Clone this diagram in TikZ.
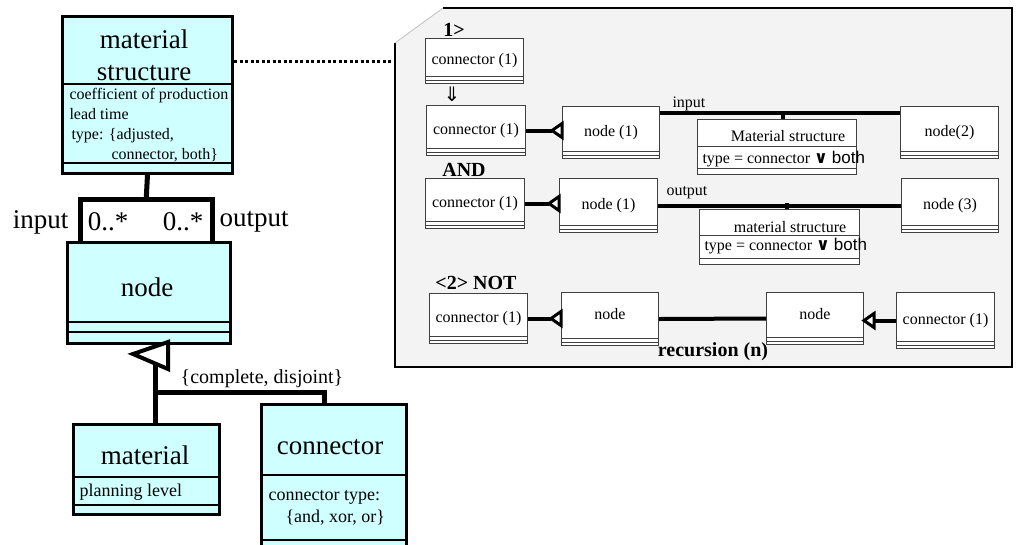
\documentclass[tikz,border=0pt]{standalone}
\usepackage{fontspec}
\setmainfont{Liberation Serif}
\newfontfamily\symfont{DejaVu Sans}
\newfontfamily\armfont{Liberation Sans}
\usetikzlibrary{arrows.meta, positioning, calc}
\definecolor{UmlCyan}{HTML}{CFFFFF}
\definecolor{PanelGrey}{HTML}{F3F3F3}

\begin{document}
\begin{tikzpicture}[x=1pt, y=-1pt,
        clsbox/.style={draw, line width=3pt, fill=UmlCyan, anchor=north west, inner sep=0pt},
        divline/.style={line width=2.5pt},
        assoc/.style={line width=5pt},
        bigtext/.style={font=\fontsize{27}{32}\selectfont},
        attrtext/.style={font=\fontsize{16}{20}\selectfont, align=left},
        midtext/.style={font=\fontsize{18}{21}\selectfont},
        smallbox/.style={draw=black!75, line width=1pt, fill=white, anchor=north west, inner sep=0pt, font=\fontsize{16}{19}\selectfont},
        thinline/.style={draw=black!75, line width=1pt},
        pline/.style={line width=4pt},
        ptri/.style={line width=3pt, fill=white, line join=miter},
        boldtext/.style={font=\fontsize{20}{24}\selectfont\bfseries},
        plabel/.style={font=\fontsize{16}{19}\selectfont, anchor=west},
        dotlink/.style={line width=3pt, dash pattern=on 3pt off 2.5pt}]

    \useasboundingbox (0,0) rectangle (1016,544);

    % class diagram
    \node[clsbox, minimum width=170pt, minimum height=157pt] (mstruct) at (61,15) {};
    \draw[divline] (61,84) -- (231,84);
    \draw[divline] (61,163) -- (231,163);
    \node[bigtext, align=center] at (144,55) {material\\structure};
    \node[attrtext, anchor=west] at (66,125) {coefficient of production\\lead time\\\hspace{2pt}type: \{adjusted,\\\hspace{42pt}connector, both\}};

    \node[minimum width=132pt, minimum height=42pt, fill=white, anchor=north west, inner sep=0pt] (mult) at (80,199) {};
    \draw[assoc] (mult.south west) -- (mult.north west) -- (mult.north east) -- (mult.south east);
    \draw[assoc] (mstruct.south) -- (mult.north);

    \node[clsbox, minimum width=163pt, minimum height=101pt] (nodecls) at (66,241) {};
    \draw[divline] (66,322) -- (229,322);
    \draw[divline] (66,332) -- (229,332);
    \node[bigtext] at (147,287) {node};

    \node[bigtext, anchor=east] at (72,222) {input};
    \node[bigtext] at (108,222) {0..*};
    \node[bigtext] at (183,222) {0..*};
    \node[bigtext] at (254,222) {output};

    \node[clsbox, minimum width=146pt, minimum height=90pt] (matcls) at (72,423) {};
    \draw[divline] (72,477) -- (218,477);
    \draw[divline] (72,505) -- (218,505);
    \node[bigtext] at (145,455) {material};
    \node[midtext, anchor=west] at (76,492) {planning level};

    \node[clsbox, minimum width=145pt, minimum height=148pt] (concls) at (260,403) {};
    \draw[divline] (260,475) -- (405,475);
    \draw[divline] (260,540) -- (405,540);
    \node[bigtext] at (330,447) {connector};
    \node[midtext, anchor=west] at (265,497) {connector type:};
    \node[midtext, anchor=west] at (282,518) {\{and, xor, or\}};

    % generalization
    \coordinate (genjoin) at (155,392);
    \draw[assoc] (155,364) -- (genjoin) -- (matcls.north -| genjoin);
    \draw[assoc] (genjoin) -| ([xshift=-10pt]concls.north);
    \draw[line width=4pt, fill=white] (168,342) -- (133,354) -- (168,369) -- cycle;
    \node[font=\fontsize{20}{24}\selectfont] at (262,379) {\{complete, disjoint\}};

    % example panel
    \coordinate (panelw) at (395,61);
    \fill[PanelGrey] (443,8) -- (1012,8) -- (1012,367) -- (395,367) -- (395,43) -- cycle;
    \draw[line width=2.5pt] (443,8) -- (1012,8) -- (1012,367) -- (395,367) -- (395,43);
    \draw[black!25, line width=0.8pt] (395,43) -- (443,8);
    \draw[dotlink] (mstruct.east |- panelw) -- (panelw);

    \node[boldtext] at (454,30) {1>};
    \node[smallbox, minimum width=98pt, minimum height=45pt] (c0) at (425,38) {connector (1)};
    \node[font=\symfont\fontsize{20}{22}\selectfont] at (452,94) {⇓};
    \node[smallbox, minimum width=99pt, minimum height=50pt] (c1) at (426,105) {connector (1)};
    \node[smallbox, minimum width=97pt, minimum height=52pt] (n1) at (562,106) {node (1)};
    \node[smallbox, minimum width=98pt, minimum height=52pt] (n2) at (900,106) {node(2)};
    \node[smallbox, minimum width=159pt, minimum height=55pt] (ms1) at (697,119) {};

    \node[boldtext] at (464,170) {AND};
    \node[smallbox, minimum width=99pt, minimum height=50pt] (c2) at (425,178) {connector (1)};
    \node[smallbox, minimum width=98pt, minimum height=54pt] (n3) at (559,178) {node (1)};
    \node[smallbox, minimum width=97pt, minimum height=54pt] (n4) at (901,178) {node (3)};
    \node[smallbox, minimum width=160pt, minimum height=55pt] (ms2) at (699,209) {};

    \node[boldtext] at (476,283) {<2> NOT};
    \node[smallbox, minimum width=98pt, minimum height=50pt] (c3) at (429,293) {connector (1)};
    \node[smallbox, minimum width=97pt, minimum height=53pt, text depth=10pt] (n5) at (561,292) {node};
    \node[smallbox, minimum width=97pt, minimum height=52pt, text depth=10pt] (n6) at (766,292) {node};
    \node[smallbox, minimum width=98pt, minimum height=56pt] (c4) at (896,292) {connector (1)};
    \node[boldtext] at (713,352) {recursion (n)};

    \foreach \b in {c0,c1,n1,n2,c2,n3,n4,c3,n5,n6,c4} {
        \draw[thinline] ([yshift=8pt]\b.south west) -- ([yshift=8pt]\b.south east);
        \draw[thinline] ([yshift=4pt]\b.south west) -- ([yshift=4pt]\b.south east);
    }

    % material structure boxes
    \draw[thinline] ([yshift=-27pt]ms1.north west) -- ([yshift=-27pt]ms1.north east);
    \draw[thinline] ([yshift=7pt]ms1.south west) -- ([yshift=7pt]ms1.south east);
    \node[plabel, anchor=center] at (788,136) {Material structure};
    \node[plabel] at (699,159) {type = connector {\symfont\bfseries\fontsize{17}{19}\selectfont ∨} {\armfont\fontsize{17}{19}\selectfont both}};
    \draw[thinline] ([yshift=-26pt]ms2.north west) -- ([yshift=-26pt]ms2.north east);
    \draw[thinline] ([yshift=7pt]ms2.south west) -- ([yshift=7pt]ms2.south east);
    \node[plabel, anchor=center] at (790,227) {material structure};
    \node[plabel] at (701,246) {type = connector {\symfont\bfseries\fontsize{17}{19}\selectfont ∨} {\armfont\fontsize{17}{19}\selectfont both}};

    % links
    \draw[pline] ([yshift=-7pt]n1.north east) -- ([yshift=-7pt]n2.north west);
    \draw[pline] ([xshift=6pt]ms1.north) -- ++(0,-6);
    \node[plabel] at (669,104) {input};
    \draw[pline] (n3.east) -- (n4.west);
    \draw[pline] ([xshift=7pt]ms2.north) -- ++(0,-6);
    \node[plabel] at (663,193) {output};
    \draw[pline] (n5.east) -- (n6.west);

    \foreach \c/\n in {c1/n1, c2/n3, c3/n5} {
        \draw[pline] (\c.east) -- ([xshift=-10pt]\n.west |- \c.east);
        \draw[ptri] ([yshift=7pt]\n.west |- \c.east) -- ([yshift=-7pt]\n.west |- \c.east) -- ([xshift=-10pt]\n.west |- \c.east) -- cycle;
    }
    \draw[pline] (c4.west) -- ([xshift=10pt]n6.east |- c4.west);
    \draw[ptri] ([xshift=10pt,yshift=7pt]n6.east |- c4.west) -- ([xshift=10pt,yshift=-7pt]n6.east |- c4.west) -- (n6.east |- c4.west) -- cycle;
\end{tikzpicture}
\end{document}
